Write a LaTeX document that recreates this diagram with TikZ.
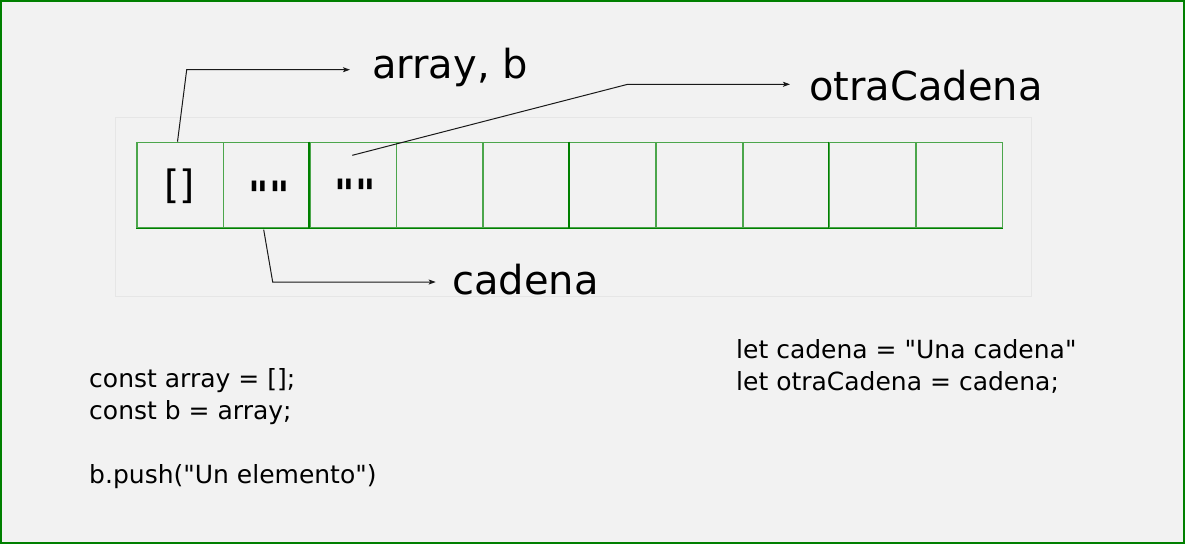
\documentclass[tikz,border=0pt]{standalone}
\usepackage{fontspec}
\setmainfont{DejaVu Sans}[Ligatures=TeXOff]
\usetikzlibrary{arrows.meta,calc}
\definecolor{bgc}{HTML}{F2F2F2}
\definecolor{dkgreen}{HTML}{008000}
\definecolor{ltgreen}{HTML}{4CA64C}
\definecolor{faint}{HTML}{E6E6E6}
\tikzset{
  cellbox/.style={draw=ltgreen, line width=1.6pt, minimum width=86.57pt, minimum height=85.3pt, inner sep=0pt, anchor=north west},
  bigtxt/.style={font=\fontsize{40}{46}\selectfont, inner sep=0pt, anchor=base west},
  celltxt/.style={font=\fontsize{39}{46}\selectfont, inner sep=0pt, anchor=base},
  codetxt/.style={inner sep=0pt, anchor=base west, align=left, font=\fontsize{25}{31.7}\selectfont},
  arr/.style={draw=black!90, line width=1pt, -{Stealth[length=7pt,width=5pt,inset=1.5pt]}}
}
\begin{document}
\begin{tikzpicture}[x=1pt,y=-1pt]
\useasboundingbox (0,0) rectangle (1185,544);
\fill[bgc] (0,0) rectangle (1185,544);
\draw[dkgreen, line width=2pt] (1,1) rectangle (1184,543);
\draw[faint, line width=1pt] (115,117.3) rectangle (1031,296);
% cells
\foreach \i in {0,...,9} {
  \node[cellbox] (c\i) at ({136+86.57*\i},141.7) {};
}
\draw[dkgreen, line width=1.3pt] (c0.south west) -- (c9.south east);
\draw[dkgreen, line width=1.6pt] (c2.north west) -- (c2.south west);
\draw[dkgreen, line width=1.6pt] (c5.north west) -- (c5.south west);
\draw[dkgreen, line width=1.6pt] (c8.north west) -- (c8.south west);
% cell contents
\node[celltxt] (t0) at (180,198.8) {[]};
\node[celltxt, font=\fontsize{39}{46}\selectfont\bfseries] (t1) at (269.2,209.9) {""};
\node[celltxt, font=\fontsize{39}{46}\selectfont\bfseries] (t2) at (355.3,207.9) {""};
% labels
\node[bigtxt] (lA) at (372,78.5) {array, b};
\node[bigtxt] (lO) at (809,100) {otraCadena};
\node[bigtxt] (lC) at (452,294) {cadena};
% connectors
\coordinate (a1s) at (177.5,141.7);
\coordinate (a1b) at (186.7,69.7);
\coordinate (a1e) at (350,69.7);
\draw[arr] (a1s) -- (a1b) -- (a1e);
\coordinate (a2s) at (352.3,155.3);
\coordinate (a2b) at (627.7,84.3);
\coordinate (a2e) at (790,84.3);
\draw[arr] (a2s) -- (a2b) -- (a2e);
\coordinate (a3s) at (263.7,229.7);
\coordinate (a3b) at (272.7,282);
\coordinate (a3e) at (435.7,282);
\draw[arr] (a3s) -- (a3b) -- (a3e);
% code
\node[codetxt] (code1) at (89,483) {const array = [];\\const b = array;\\[31.7pt]b.push("Un elemento")};
\node[codetxt] (code2) at (736,390) {let cadena = "Una cadena"\\let otraCadena = cadena;};
\end{tikzpicture}
\end{document}
